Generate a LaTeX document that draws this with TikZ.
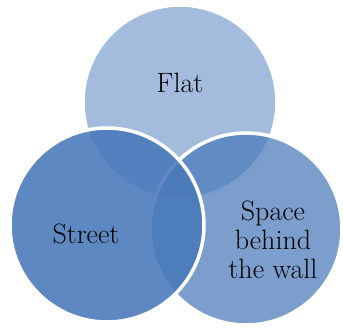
\documentclass[tikz,border=0pt]{standalone}
\usepackage{fontspec}
\usepackage{tikz}
\definecolor{vennblue}{RGB}{72,120,186}

\begin{document}
\begin{tikzpicture}[x=1pt, y=-1pt,
  venn/.style={circle, draw=white, line width=3.5pt, fill=vennblue, inner sep=0pt},
  vennlabel/.style={font=\fontsize{28}{29}\selectfont, align=center, text=black},
]
\useasboundingbox (0,0) rectangle (343,327);
\node[venn, fill opacity=0.5, minimum size=194pt] (flat) at (180,102) {};
\node[venn, fill opacity=0.72, minimum size=192pt] (wall) at (246,229) {};
\node[venn, fill opacity=0.88, minimum size=194pt] (street) at (107,225) {};
\node[vennlabel] (flatlabel) at (180,83) {Flat};
\node[vennlabel] (streetlabel) at (86,234) {Street};
\node[vennlabel] (walllabel) at (273,240) {Space\\behind\\the wall};
\end{tikzpicture}
\end{document}
